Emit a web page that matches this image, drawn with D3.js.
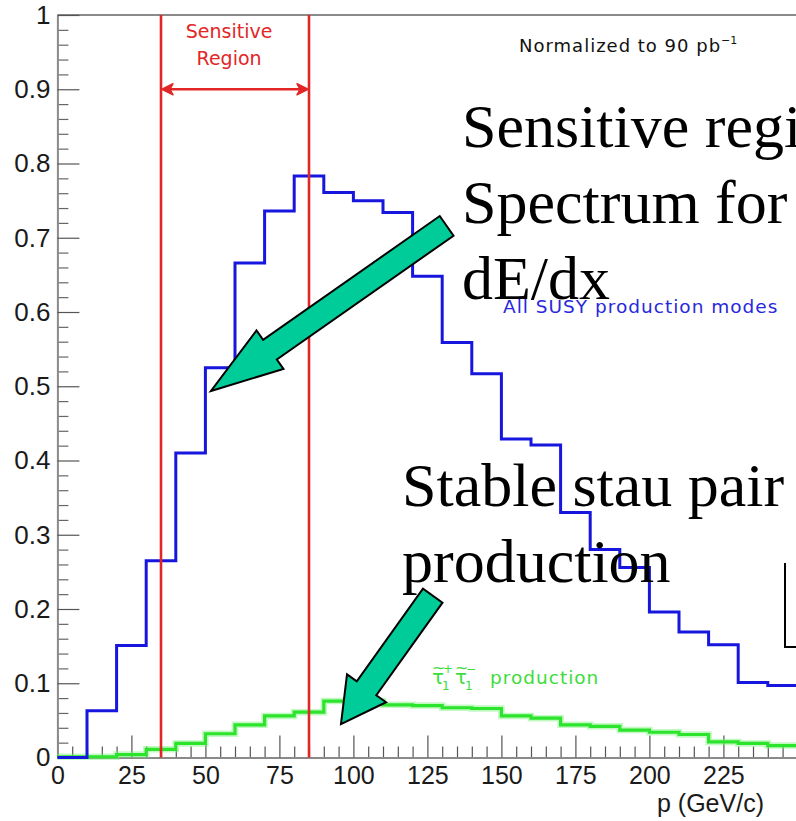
<!DOCTYPE html>
<html>
<head>
<meta charset="utf-8">
<script src="https://cdn.jsdelivr.net/npm/d3@7"></script>
<style>
  html, body { margin: 0; padding: 0; background: #fff; overflow: hidden; }
  svg { display: block; }
</style>
</head>
<body>
<svg id="chart" width="796" height="821"></svg>
<script>
// Lower edges of the 10 GeV/c momentum bins
const binStarts = [0, 10, 20, 30, 40, 50, 60, 70, 80, 90, 100, 110, 120,
                   130, 140, 150, 160, 170, 180, 190, 200, 210, 220, 230, 240];
const binWidth = 10;

// All SUSY production modes (normalized to 90 pb^-1)
const allSusy = [0.000, 0.063, 0.151, 0.265, 0.410, 0.525, 0.666, 0.736, 0.783,
                 0.761, 0.750, 0.734, 0.648, 0.559, 0.517, 0.429, 0.421, 0.330,
                 0.280, 0.256, 0.196, 0.169, 0.152, 0.101, 0.097];

// Stau pair production
const stauPair = [0.001, 0.001, 0.004, 0.011, 0.019, 0.032, 0.044, 0.056, 0.061,
                  0.076, 0.076, 0.071, 0.070, 0.067, 0.066, 0.056, 0.053, 0.044,
                  0.042, 0.037, 0.034, 0.031, 0.021, 0.019, 0.016];

// Momentum window sensitive to dE/dx
const sensitiveRange = [35, 85];

const xTickValues = [0, 25, 50, 75, 100, 125, 150, 175, 200, 225];
const xTickLabels = ["0", "25", "50", "75", "100", "125", "150", "175", "200", "225"];
const yTickValues = [0, 0.1, 0.2, 0.3, 0.4, 0.5, 0.6, 0.7, 0.8, 0.9, 1];
const yTickLabels = ["0", "0.1", "0.2", "0.3", "0.4", "0.5", "0.6", "0.7", "0.8", "0.9", "1"];

const svg = d3.select("#chart");

const x = d3.scaleLinear().domain([0, 250]).range([57.4, 797.4]);
const y = d3.scaleLinear().domain([0, 1]).range([757.5, 15]);

const axisGrey = "#8a8a8a";
const tickFont = "'Liberation Sans', Arial, sans-serif";

// ---- frame ----
svg.append("line")
  .attr("x1", x(0)).attr("x2", x(250))
  .attr("y1", y(1)).attr("y2", y(1))
  .attr("stroke", axisGrey).attr("stroke-width", 2);

// ---- x axis ----
const xMinor = d3.range(0, 251, 5).filter(v => v % 25 !== 0);
svg.append("g")
  .attr("transform", `translate(0,${y(0)})`)
  .call(d3.axisBottom(x).tickValues(xMinor).tickSize(-11).tickSizeOuter(0).tickFormat(""))
  .call(g => g.select(".domain").remove())
  .call(g => g.selectAll(".tick line").attr("stroke", "#555").attr("stroke-width", 1.2));

const xAxis = svg.append("g")
  .attr("transform", `translate(0,${y(0)})`)
  .call(d3.axisBottom(x).tickValues(xTickValues.concat([250])).tickSize(-22).tickSizeOuter(0)
        .tickPadding(9).tickFormat((d, i) => xTickLabels[i] || ""));
xAxis.select(".domain").attr("stroke", axisGrey).attr("stroke-width", 2);
xAxis.selectAll(".tick line").attr("stroke", "#555").attr("stroke-width", 1.2);
xAxis.selectAll(".tick text")
  .attr("font-family", tickFont).attr("font-size", 25).attr("fill", "#1a1a1a");

// ---- y axis ----
const yMinor = d3.range(0, 1.001, 0.02).filter(v => Math.abs(v * 10 - Math.round(v * 10)) > 1e-6);
svg.append("g")
  .attr("transform", `translate(${x(0)},0)`)
  .call(d3.axisLeft(y).tickValues(yMinor).tickSize(-11).tickSizeOuter(0).tickFormat(""))
  .call(g => g.select(".domain").remove())
  .call(g => g.selectAll(".tick line").attr("stroke", "#666").attr("stroke-width", 1.2));

const yAxis = svg.append("g")
  .attr("transform", `translate(${x(0)},0)`)
  .call(d3.axisLeft(y).tickValues(yTickValues).tickSize(-22).tickSizeOuter(0)
        .tickPadding(7).tickFormat((d, i) => yTickLabels[i]));
yAxis.select(".domain").attr("stroke", axisGrey).attr("stroke-width", 2);
yAxis.selectAll(".tick line").attr("stroke", "#555").attr("stroke-width", 1.2);
yAxis.selectAll(".tick text")
  .attr("font-family", tickFont).attr("font-size", 26).attr("fill", "#1a1a1a");

// axis title
svg.append("text")
  .attr("x", 657).attr("y", 812)
  .attr("font-family", tickFont).attr("font-size", 25).attr("fill", "#1a1a1a")
  .text("p (GeV/c)");

// ---- histograms ----
const stepLine = d3.line()
  .x(d => x(d[0])).y(d => y(d[1]))
  .curve(d3.curveStepAfter);

function histPoints(values) {
  const pts = binStarts.map((b, i) => [b, values[i]]);
  pts.push([binStarts[binStarts.length - 1] + binWidth, values[values.length - 1]]);
  return pts;
}

// stau pair (soft glow underneath)
svg.append("path")
  .attr("d", stepLine(histPoints(stauPair)))
  .attr("fill", "none").attr("stroke", "rgba(120,240,120,0.45)").attr("stroke-width", 6.5);
svg.append("path")
  .attr("d", stepLine(histPoints(stauPair)))
  .attr("fill", "none").attr("stroke", "rgb(45,228,45)").attr("stroke-width", 3.2);

svg.append("path")
  .attr("d", stepLine(histPoints(allSusy)))
  .attr("fill", "none").attr("stroke", "rgb(22,22,222)").attr("stroke-width", 3);

// ---- sensitive region ----
const red = "rgb(226,38,38)";
sensitiveRange.forEach(v => {
  svg.append("line")
    .attr("x1", x(v)).attr("x2", x(v))
    .attr("y1", y(1)).attr("y2", y(0))
    .attr("stroke", red).attr("stroke-width", 2.6);
});

const arrowY = y(0.9);
const xa = x(sensitiveRange[0]) + 1, xb = x(sensitiveRange[1]) - 1;
svg.append("line")
  .attr("x1", xa + 4).attr("x2", xb - 4)
  .attr("y1", arrowY).attr("y2", arrowY)
  .attr("stroke", red).attr("stroke-width", 2.6);
[[xa, 1], [xb, -1]].forEach(([px, dir]) => {
  svg.append("path")
    .attr("d", `M${px},${arrowY} L${px + dir * 11},${arrowY - 5.5} L${px + dir * 8},${arrowY} L${px + dir * 11},${arrowY + 5.5} Z`)
    .attr("fill", red).attr("stroke", red).attr("stroke-width", 1.5).attr("stroke-linejoin", "round");
});

const regionFont = "'DejaVu Sans', sans-serif";
svg.append("text")
  .attr("x", x(58)).attr("y", 38)
  .attr("text-anchor", "middle")
  .attr("font-family", regionFont).attr("font-size", 19).attr("fill", red)
  .text("Sensitive");
svg.append("text")
  .attr("x", x(58)).attr("y", 65)
  .attr("text-anchor", "middle")
  .attr("font-family", regionFont).attr("font-size", 19).attr("fill", red)
  .text("Region");

// ---- in-plot labels ----
const labelFont = "'DejaVu Sans', sans-serif";
const norm = svg.append("text")
  .attr("x", 519).attr("y", 52)
  .attr("font-family", labelFont).attr("font-size", 18).attr("fill", "#111")
  .attr("letter-spacing", 1);
norm.append("tspan").text("Normalized to 90 pb");
norm.append("tspan").attr("dy", -8).attr("font-size", 11).attr("letter-spacing", 0).text("−1");

svg.append("text")
  .attr("x", 503).attr("y", 313)
  .attr("font-family", labelFont).attr("font-size", 18.5).attr("fill", "rgb(40,40,220)")
  .attr("letter-spacing", 1)
  .text("All SUSY production modes");

// stau label: tilde-tau_1^+ tilde-tau_1^- production
const green = "rgb(60,220,60)";
const stauG = svg.append("g").attr("fill", green).attr("font-family", labelFont);
function stauSymbol(px, sign) {
  stauG.append("text").attr("x", px).attr("y", 684).attr("font-size", 20).text("τ");
  stauG.append("text").attr("x", px).attr("y", 673).attr("font-size", 16).text("~");
  stauG.append("text").attr("x", px + 10).attr("y", 690).attr("font-size", 12).text("1");
  stauG.append("text").attr("x", px + 11).attr("y", 673).attr("font-size", 12).text(sign);
}
stauSymbol(432, "+");
stauSymbol(455, "−");
stauG.append("text")
  .attr("x", 490).attr("y", 684)
  .attr("font-size", 18.5).attr("letter-spacing", 1)
  .text("production");

// ---- annotation arrows ----
const teal = "rgb(0,204,153)";
function blockArrow(tip, tail, shaftHalf, headLen, headHalf) {
  const dx = tail[0] - tip[0], dy = tail[1] - tip[1];
  const len = Math.hypot(dx, dy);
  const u = [dx / len, dy / len];
  const n = [-u[1], u[0]];
  const at = (a, p) => [tip[0] + u[0] * a + n[0] * p, tip[1] + u[1] * a + n[1] * p];
  const pts = [
    tip,
    at(headLen, headHalf),
    at(headLen, shaftHalf),
    at(len, shaftHalf),
    at(len, -shaftHalf),
    at(headLen, -shaftHalf),
    at(headLen, -headHalf)
  ];
  svg.append("polygon")
    .attr("points", pts.map(p => p.join(",")).join(" "))
    .attr("fill", teal).attr("stroke", "#000").attr("stroke-width", 2)
    .attr("stroke-linejoin", "miter");
}
blockArrow([x(51.9), y(0.4936)], [x(131.5), y(0.716)], 12, 72, 23.5);
blockArrow([x(95.8), y(0.045)], [x(126.8), y(0.218)], 12, 44, 24);

// ---- overlaid captions ----
const serif = "'Liberation Serif', 'Times New Roman', serif";
const captions = [
  { text: "Sensitive region", x: 462, y: 147 },
  { text: "Spectrum for", x: 462, y: 223 },
  { text: "dE/dx", x: 462, y: 299 },
  { text: "Stable stau pair", x: 402, y: 506 },
  { text: "production", x: 402, y: 582 }
];
svg.selectAll("text.caption")
  .data(captions)
  .enter().append("text")
  .attr("class", "caption")
  .attr("x", d => d.x).attr("y", d => d.y)
  .attr("font-family", serif).attr("font-size", 62).attr("fill", "#000")
  .text(d => d.text);

// edge of a neighbouring inset box
svg.append("path")
  .attr("d", "M785,563 V647 H797")
  .attr("fill", "none").attr("stroke", "#000").attr("stroke-width", 2);
</script>
</body>
</html>
